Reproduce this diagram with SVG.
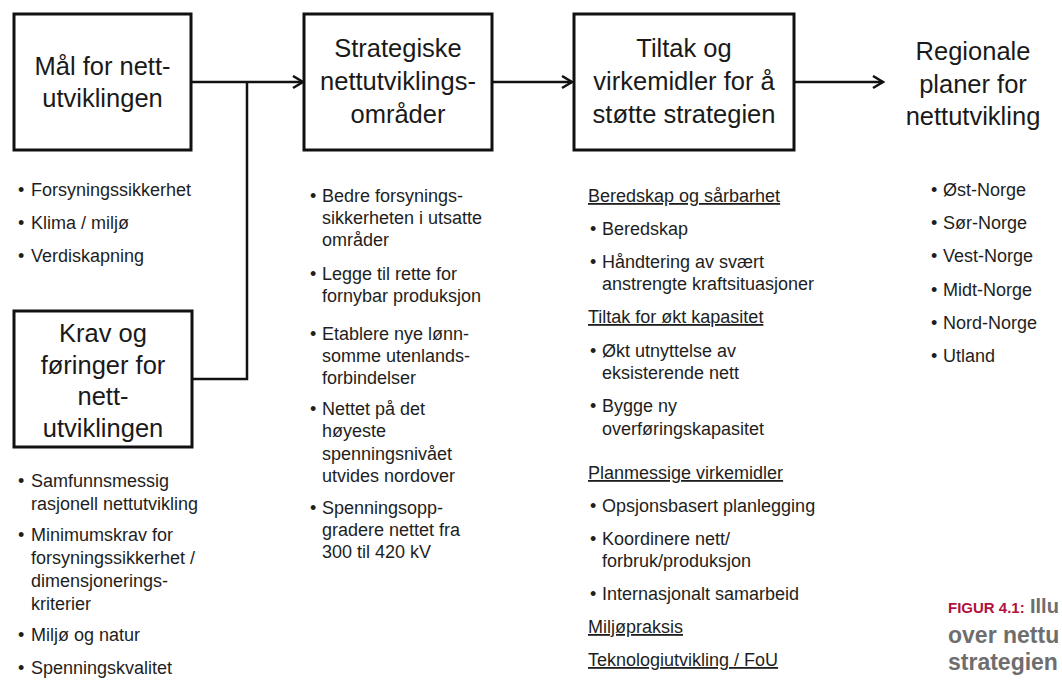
<svg xmlns="http://www.w3.org/2000/svg" width="1062" height="687" viewBox="0 0 1062 687">
<style>
.box{fill:#fff;stroke:#111;stroke-width:3}
.bt{font-family:"Liberation Sans",Arial,sans-serif;font-size:25.5px;fill:#1a1a1a;text-anchor:middle}
.li{font-family:"Liberation Sans",Arial,sans-serif;font-size:18px;fill:#1e1e1e}
.hd{text-decoration:underline}
.con{fill:none;stroke:#111;stroke-width:2.5}
.cap{font-family:"Liberation Sans",Arial,sans-serif;font-weight:bold}
</style>
<defs>
<marker id="arr" markerUnits="userSpaceOnUse" markerWidth="14" markerHeight="16" refX="11" refY="7" orient="auto" viewBox="0 0 14 16">
<path d="M1,1 L11,7 L1,13" fill="none" stroke="#111" stroke-width="2.5"/>
</marker>
</defs>
<rect width="1062" height="687" fill="#fff"/>
<g id="connectors">
<path class="con" d="M191,82 H303" marker-end="url(#arr)"/>
<path class="con" d="M192,379 H247 V82"/>
<path class="con" d="M492,82 H572" marker-end="url(#arr)"/>
<path class="con" d="M794,82 H883" marker-end="url(#arr)"/>
</g>
<g id="maal">
<rect class="box" x="14" y="14" width="177" height="136"/>
<text class="bt" x="102.5" y="75">Mål for nett-</text>
<text class="bt" x="102.5" y="107">utviklingen</text>
</g>
<g id="maal-list" class="li">
<text x="18" y="196">•</text><text x="31" y="196">Forsyningssikkerhet</text>
<text x="18" y="229">•</text><text x="31" y="229">Klima / miljø</text>
<text x="18" y="262">•</text><text x="31" y="262">Verdiskapning</text>
</g>
<g id="krav">
<rect class="box" x="14" y="311" width="178" height="136"/>
<text class="bt" x="103" y="342">Krav og</text>
<text class="bt" x="103" y="374">føringer for</text>
<text class="bt" x="103" y="405">nett-</text>
<text class="bt" x="103" y="437">utviklingen</text>
</g>
<g id="krav-list" class="li">
<text x="18" y="487">•</text><text x="31" y="487">Samfunnsmessig</text>
<text x="31" y="510">rasjonell nettutvikling</text>
<text x="18" y="541">•</text><text x="31" y="541">Minimumskrav for</text>
<text x="31" y="564">forsyningssikkerhet /</text>
<text x="31" y="587">dimensjonerings-</text>
<text x="31" y="610">kriterier</text>
<text x="18" y="641">•</text><text x="31" y="641">Miljø og natur</text>
<text x="18" y="674">•</text><text x="31" y="674">Spenningskvalitet</text>
</g>
<g id="strategiske">
<rect class="box" x="304" y="14" width="188" height="136"/>
<text class="bt" x="398" y="57">Strategiske</text>
<text class="bt" x="398" y="90">nettutviklings-</text>
<text class="bt" x="398" y="123">områder</text>
</g>
<g id="strategiske-list" class="li">
<text x="310" y="202">•</text><text x="322" y="202">Bedre forsynings-</text>
<text x="322" y="224">sikkerheten i utsatte</text>
<text x="322" y="246">områder</text>
<text x="310" y="280">•</text><text x="322" y="280">Legge til rette for</text>
<text x="322" y="302">fornybar produksjon</text>
<text x="310" y="340">•</text><text x="322" y="340">Etablere nye lønn-</text>
<text x="322" y="362">somme utenlands-</text>
<text x="322" y="384">forbindelser</text>
<text x="310" y="415">•</text><text x="322" y="415">Nettet på det</text>
<text x="322" y="437">høyeste</text>
<text x="322" y="460">spenningsnivået</text>
<text x="322" y="482">utvides nordover</text>
<text x="310" y="514">•</text><text x="322" y="514">Spenningsopp-</text>
<text x="322" y="536">gradere nettet fra</text>
<text x="322" y="558">300 til 420 kV</text>
</g>
<g id="tiltak">
<rect class="box" x="574" y="14" width="220" height="136"/>
<text class="bt" x="684" y="57">Tiltak og</text>
<text class="bt" x="684" y="90">virkemidler for å</text>
<text class="bt" x="684" y="123">støtte strategien</text>
</g>
<g id="tiltak-list" class="li">
<text class="hd" x="588" y="202">Beredskap og sårbarhet</text>
<text x="590" y="235">•</text><text x="602" y="235">Beredskap</text>
<text x="590" y="268">•</text><text x="602" y="268">Håndtering av svært</text>
<text x="602" y="290">anstrengte kraftsituasjoner</text>
<text class="hd" x="588" y="323">Tiltak for økt kapasitet</text>
<text x="590" y="357">•</text><text x="602" y="357">Økt utnyttelse av</text>
<text x="602" y="379">eksisterende nett</text>
<text x="590" y="412">•</text><text x="602" y="412">Bygge ny</text>
<text x="602" y="435">overføringskapasitet</text>
<text class="hd" x="588" y="479">Planmessige virkemidler</text>
<text x="590" y="512">•</text><text x="602" y="512">Opsjonsbasert planlegging</text>
<text x="590" y="545">•</text><text x="602" y="545">Koordinere nett/</text>
<text x="602" y="567">forbruk/produksjon</text>
<text x="590" y="600">•</text><text x="602" y="600">Internasjonalt samarbeid</text>
<text class="hd" x="588" y="633">Miljøpraksis</text>
<text class="hd" x="588" y="666">Teknologiutvikling / FoU</text>
</g>
<g id="regionale">
<text class="bt" x="973" y="60">Regionale</text>
<text class="bt" x="973" y="93">planer for</text>
<text class="bt" x="973" y="125">nettutvikling</text>
</g>
<g id="regionale-list" class="li">
<text x="931" y="196">•</text><text x="943" y="196">Øst-Norge</text>
<text x="931" y="229">•</text><text x="943" y="229">Sør-Norge</text>
<text x="931" y="262">•</text><text x="943" y="262">Vest-Norge</text>
<text x="931" y="296">•</text><text x="943" y="296">Midt-Norge</text>
<text x="931" y="329">•</text><text x="943" y="329">Nord-Norge</text>
<text x="931" y="362">•</text><text x="943" y="362">Utland</text>
</g>
<g id="caption">
<text class="cap" x="948" y="613" font-size="15" fill="#b0123e">FIGUR 4.1:</text>
<text class="cap" x="1030" y="613" font-size="20" fill="#6e6e6e">Illu</text>
<text class="cap" x="948" y="643" font-size="23" fill="#6e6e6e">over nettu</text>
<text class="cap" x="948" y="670" font-size="23" fill="#6e6e6e">strategien</text>
</g>
</svg>
